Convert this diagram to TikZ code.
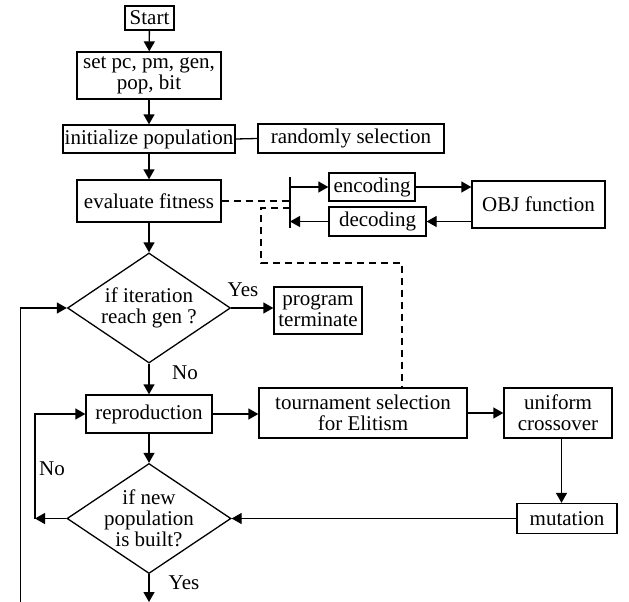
\documentclass[tikz,border=0pt]{standalone}
\usepackage{fontspec}
\setmainfont{Liberation Serif}
\usetikzlibrary{arrows.meta,shapes.geometric}
\begin{document}
\begin{tikzpicture}[x=1pt,y=-1pt,
  every node/.style={font=\fontsize{21}{21}\selectfont, text=black},
  box/.style={draw, line width=1.3pt, rectangle, inner sep=0pt, align=center, anchor=center},
  dia/.style={draw, line width=1.3pt, diamond, inner sep=0pt, anchor=center},
  txt/.style={align=center, inner sep=0pt},
  conn/.style={line width=1.3pt},
  arr/.style={line width=1.3pt, -{Triangle[length=10pt,width=11pt]}},
  dsh/.style={line width=1.3pt, dash pattern=on 7pt off 5pt}]
\useasboundingbox (0,0) rectangle (629,602);

% main column
\node[box, minimum width=49pt, minimum height=24pt] (start) at (149.5,18) {Start};
\node[box, minimum width=144pt, minimum height=47pt] (set) at (149,75.5) {set pc, pm, gen,\\pop, bit};
\node[box, minimum width=172pt, minimum height=28pt] (init) at (149,139) {initialize population};
\node[box, minimum width=186pt, minimum height=29pt] (rand) at (351,138.5) {randomly selection};
\node[box, minimum width=144pt, minimum height=42pt] (eval) at (149,201) {evaluate fitness};
\node[box, minimum width=86pt, minimum height=28pt] (enc) at (372,187) {encoding};
\node[box, minimum width=97pt, minimum height=29pt] (dec) at (377.5,221.5) {decoding};
\node[box, minimum width=133pt, minimum height=47pt] (obj) at (538.5,204.5) {OBJ function};

\node[dia, minimum width=163pt, minimum height=110pt] (d1) at (149,308) {};
\node[txt] (d1t) at (d1.center) {if iteration\\reach gen ?};
\node[box, minimum width=88pt, minimum height=47pt] (term) at (318,310.5) {program\\terminate};

\node[box, minimum width=126pt, minimum height=38pt] (repro) at (149,414) {reproduction};
\node[box, minimum width=208pt, minimum height=50pt] (tour) at (363,413) {tournament selection\\for Elitism};
\node[box, minimum width=108pt, minimum height=50pt] (unif) at (558,413) {uniform\\crossover};
\node[box, minimum width=100pt, minimum height=30pt] (mut) at (567,518.5) {mutation};

\node[dia, minimum width=164pt, minimum height=110pt] (d2) at (149,518.5) {};
\node[txt] (d2t) at (d2.center) {if new\\population\\is built?};

% labels
\node[txt] (yes1) at (243,290) {Yes};
\node[txt] (no1) at (185,373) {No};
\node[txt] (no2) at (52,469) {No};
\node[txt] (yes2) at (184,583) {Yes};

% coordinates
\coordinate (bartop) at (290,177);
\coordinate (barbot) at (290,228);
\coordinate (dstart) at (290,208);
\coordinate (dj1) at (261,263);
\coordinate (dturn) at (402,263);
\coordinate (nol) at (35,518.5);
\coordinate (endp) at (149,602);
\coordinate (loopb) at (20.7,602);
\coordinate (mx) at (561.5,0);

% connectors
\draw[arr] (start) -- (set);
\draw[arr] (set) -- (init);
\draw[arr] (init) -- (eval);
\draw[arr] (eval) -- (d1.north);
\draw[conn] (init.east) -- (rand.west);

\draw[conn] (bartop) -- (barbot);
\draw[dsh] (eval.east) -- (eval.east -| bartop);
\draw[arr] (enc.west -| bartop) -- (enc.west);
\draw[arr] (dec.west) -- (dec.west -| bartop);
\draw[arr] (enc.east) -- (enc.east -| obj.west);
\draw[arr] (obj.west |- dec.east) -- (dec.east);
\draw[dsh] (dstart) -| (dj1) -- (dturn) -- (dturn |- tour.north);

\draw[arr] (d1.east) -- (d1.east -| term.west);
\draw[arr] (d1.south) -- (repro.north);
\draw[arr] (repro.east) -- (repro.east -| tour.west);
\draw[arr] (tour.east) -- (unif.west);
\draw[arr] (unif.south -| mx) -- (mut.north -| mx);
\draw[arr] (mut.west) -- (d2.east);
\draw[arr] (repro.south) -- (d2.north);
\draw[arr] (d2.west) -- (nol);
\draw[arr] (nol) |- (repro.west);
\draw[arr] (d2.south) -- (endp);
\draw[arr] (loopb) |- (d1.west);
\end{tikzpicture}
\end{document}
